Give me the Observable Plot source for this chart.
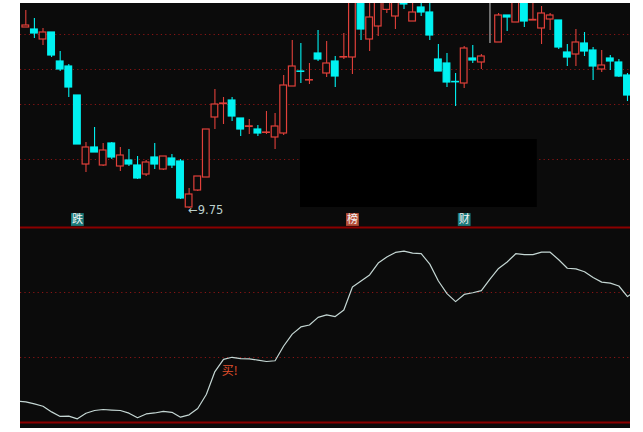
<!DOCTYPE html>
<html>
<head>
<meta charset="utf-8">
<script src="https://cdn.jsdelivr.net/npm/d3@7"></script>
<script src="https://cdn.jsdelivr.net/npm/@observablehq/plot@0.6"></script>
<style>
  html, body { margin: 0; padding: 0; background: #ffffff; }
  #wrap { position: relative; width: 643px; height: 432px; overflow: hidden; }
  #bg { position: absolute; left: 20px; top: 3px; width: 610px; height: 425px; background: #0b0b0b; }
  .layer { position: absolute; left: 0; }
  svg { background: transparent !important; }
</style>
</head>
<body>
<div id="wrap"><div id="bg"></div><div id="topPanel" class="layer" style="top:0"></div><div id="botPanel" class="layer" style="top:220px"></div></div>
<script>
// Daily candles: open, high, low, close (price)
const opens  = [18.80,18.70,18.20,18.55,17.10,16.85,15.40,11.95,12.80,11.90,13.00,11.85,12.15,11.90,11.45,12.30,11.70,12.25,12.10,9.80,10.65,11.30,14.30,14.97,15.15,14.25,13.83,13.70,13.53,13.30,13.50,15.85,16.60,16.15,17.50,16.50,17.10,17.30,17.30,20.40,18.20,18.85,19.68,19.35,20.00,19.10,19.80,19.55,17.20,17.00,16.08,16.00,17.25,17.05,18.60,18.05,19.40,19.05,20.20,19.15,18.75,19.20,19.15,17.55,17.45,18.00,17.65,16.70,17.25,17.05,16.40];
const highs  = [19.65,19.25,18.75,18.55,17.60,16.95,15.40,13.05,13.80,13.00,13.05,12.80,12.70,12.35,12.15,13.00,12.35,12.45,12.20,10.75,11.35,13.70,15.70,15.30,15.30,14.25,14.20,13.90,14.60,14.50,16.40,18.15,18.00,17.00,18.65,18.10,17.35,18.50,20.50,20.60,20.30,20.50,20.30,20.60,20.20,20.10,20.05,20.20,17.95,17.50,16.50,17.85,17.90,17.45,20.20,19.50,19.40,20.40,20.40,20.20,19.85,19.50,19.15,17.95,18.70,18.55,17.80,17.65,17.40,17.20,16.50];
const lows   = [18.80,18.25,17.90,17.30,16.60,15.30,12.95,11.55,12.55,11.85,12.20,11.60,11.85,11.20,11.35,11.70,11.65,11.75,10.20,9.75,10.60,11.30,13.70,13.95,14.10,13.35,13.45,13.35,13.45,12.70,13.40,15.85,16.00,15.95,17.10,16.30,15.80,17.20,16.45,18.15,17.60,18.35,19.50,18.70,19.70,19.10,19.35,18.15,16.60,15.80,14.85,15.75,17.00,16.70,18.00,18.05,18.60,19.05,18.80,19.15,17.95,18.65,17.70,16.85,16.85,17.35,16.15,16.55,16.65,16.30,15.10];
const closes = [18.90,18.50,18.55,17.40,16.70,15.80,12.95,12.80,12.55,12.65,12.30,12.40,11.95,11.25,12.05,11.95,12.35,11.90,10.25,10.45,11.35,13.70,14.95,15.00,14.35,13.70,13.86,13.50,13.55,13.85,15.90,16.85,16.58,16.17,17.20,17.00,16.35,17.32,20.30,18.70,19.30,20.20,20.10,20.30,19.95,19.55,19.55,18.40,16.60,16.05,16.06,17.75,17.15,17.35,18.60,19.40,19.30,20.20,19.10,19.18,19.50,19.40,17.80,17.30,18.05,17.60,16.85,16.90,17.10,16.35,15.40];

// Lower indicator line (one value per day, plus the day before and after the window)
const lineDays   = d3.range(-1, 72);
const lineValues = [9.9,9.55,8.6,7.5,4.9,2.8,2.95,1.7,4.25,5.55,6.0,5.75,5.55,4.3,2.2,3.95,4.4,5.1,4.7,2.45,3.55,6.45,12.9,23.5,29.1,30.1,29.5,29.4,28.8,28.15,28.5,35.3,40.8,44.1,45.0,48.5,49.7,48.9,51.9,62.5,65.3,68.1,73.6,76.4,78.5,79.1,78.2,77.9,73.1,65.3,59.5,55.8,59.1,59.9,60.9,66.2,71.1,74.1,77.9,77.5,77.5,78.6,78.6,75.1,71.2,70.9,69.6,66.9,64.8,64.3,63.0,58.1,60.9];

// Reference levels
const priceGrid = [18.45, 16.70, 14.95, 12.20];
const priceDomain = [8.80, 20.00];
const lowerGrid = [30, 60];
const lowerFrame = [0, 90];

// Annotations
const tagDays  = [6, 38, 51];
const tagTexts = ["跌", "榜", "财"];
const tagKinds = ["down", "up", "down"];
const tagPrice = 9.20;
const lowMark = {day: 19, price: 9.75, text: "←9.75"};
const maskBox = [{d1: 31.96, d2: 59.5, p1: 9.80, p2: 13.20}];
const buyMark = [{day: 22.8, value: 23.5, text: "买!"}];

const xDomain = [-0.617, 70.35];
const RED = "#e0403a", CYAN = "#00f2f2", GRAY = "#b8b8b8", BG = "#0b0b0b";

const candles = opens.map((o, i) => ({
  i, o, h: highs[i], l: lows[i], c: closes[i],
  col: closes[i] > o ? RED : closes[i] < o ? CYAN : GRAY,
  up: closes[i] > o
}));
const tags = tagDays.map((d, k) => ({d, t: tagTexts[k], kind: tagKinds[k]}));
const halfW = 0.39;

const topChart = Plot.plot({
  width: 643, height: 227,
  marginLeft: 20, marginRight: 13, marginTop: 3, marginBottom: 0,
  style: {background: "transparent"},
  x: {domain: xDomain, axis: null},
  y: {domain: priceDomain, axis: null},
  marks: [
    Plot.ruleY(priceGrid, {stroke: "#8a1515", strokeDasharray: "1.2,3.2", strokeWidth: 1.2}),
    Plot.ruleX(candles, {x: "i", y1: "l", y2: "h", stroke: "col", strokeWidth: 1.1, clip: true}),
    Plot.rect(candles, {x1: d => d.i - halfW, x2: d => d.i + halfW, y1: "o", y2: "c",
      fill: d => d.up ? BG : d.col, stroke: "col", strokeWidth: 1.2, clip: true}),
    Plot.rect(maskBox, {x1: "d1", x2: "d2", y1: "p1", y2: "p2", fill: "#000000"}),
    Plot.dot(tags, {x: "d", y: tagPrice, symbol: "square", r: 7.2,
      fill: d => d.kind === "up" ? "#b84f38" : "#1c7b7b"}),
    Plot.text(tags, {x: "d", y: tagPrice, text: "t", fill: "#f2f2f2", fontSize: 11,
      fontFamily: "Noto Sans CJK SC", dy: 0}),
    Plot.text([lowMark], {x: "day", y: "price", text: "text", textAnchor: "start", dx: -1, dy: 2,
      fill: "#bcd0cc", fontSize: 11.5, fontFamily: "DejaVu Sans"})
  ]
});
document.getElementById("topPanel").appendChild(topChart);

const lineData = lineDays.map((d, k) => ({d, v: lineValues[k]}));
const botChart = Plot.plot({
  width: 643, height: 212,
  marginLeft: 20, marginRight: 13, marginTop: 7, marginBottom: 10,
  style: {background: "transparent"},
  x: {domain: xDomain, axis: null},
  y: {domain: lowerFrame, axis: null},
  marks: [
    Plot.ruleY(lowerGrid, {stroke: "#8a1515", strokeDasharray: "1.2,3.2", strokeWidth: 1.2}),
    Plot.ruleY(lowerFrame, {stroke: "#8b0000", strokeWidth: 2}),
    Plot.line(lineData, {x: "d", y: "v", stroke: "#c4d6d3", strokeWidth: 1.2, clip: true}),
    Plot.text(buyMark, {x: "day", y: "value", text: "text", textAnchor: "start",
      fill: "#e0502c", fontSize: 12, fontFamily: "Noto Sans CJK SC"})
  ]
});
document.getElementById("botPanel").appendChild(botChart);
</script>
</body>
</html>
